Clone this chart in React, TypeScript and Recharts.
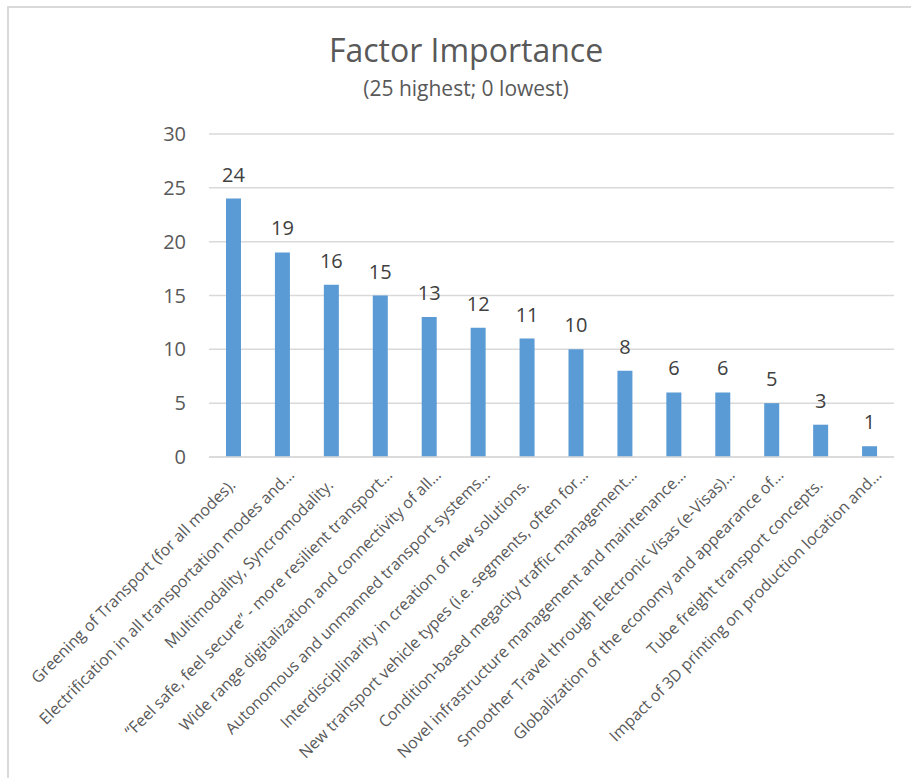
import React from "react";
import { BarChart, Bar, XAxis, YAxis, CartesianGrid, LabelList } from "recharts";

const categories: string[] = [
  "Greening of Transport (for all modes).",
  "Electrification in all transportation modes and…",
  "Multimodality, Syncromodality.",
  "“Feel safe, feel secure” - more resilient transport…",
  "Wide range digitalization and connectivity of all…",
  "Autonomous and unmanned transport systems…",
  "Interdisciplinarity in creation of new solutions.",
  "New transport vehicle types (i.e. segments, often for…",
  "Condition-based megacity traffic management…",
  "Novel infrastructure management and maintenance…",
  "Smoother Travel through Electronic Visas (e-Visas)…",
  "Globalization of the economy and appearance of…",
  "Tube freight transport concepts.",
  "Impact of 3D printing on production location and…",
];

const importance: number[] = [24, 19, 16, 15, 13, 12, 11, 10, 8, 6, 6, 5, 3, 1];

const yTicks: number[] = [0, 5, 10, 15, 20, 25, 30];

const titleText = "Factor Importance";
const subtitleText = "(25 highest; 0 lowest)";

const data = categories.map((name, i) => ({ name, value: importance[i] }));

const FONT = "'Open Sans', 'Noto Sans', sans-serif";

const CategoryTick = (props: any) => {
  const { x, y, payload } = props;
  const label: string = String(payload.value);
  const truncated = label.endsWith("…");
  const ax = x + (truncated ? 13 : 3);
  const ay = y + (truncated ? 19 : 29);
  return (
    <text
      x={ax}
      y={ay}
      transform={`rotate(-45, ${ax}, ${ay})`}
      textAnchor="end"
      fill="#595959"
      fontSize={16}
      fontFamily={FONT}
    >
      {label}
    </text>
  );
};

export default function App() {
  return (
    <div style={{ position: "absolute", left: 0, top: 0, width: 911, height: 778, background: "#fff", overflow: "hidden" }}>
      <div
        style={{
          position: "absolute",
          left: 7,
          top: 6,
          width: 1000,
          height: 1000,
          borderLeft: "2px solid #d9d9d9",
          borderTop: "2px solid #d9d9d9",
        }}
      />
      <div
        style={{
          position: "absolute",
          left: 0,
          width: 932,
          top: 28,
          textAlign: "center",
          fontFamily: FONT,
          fontSize: 32,
          color: "#595959",
          lineHeight: "44px",
        }}
      >
        {titleText}
      </div>
      <div
        style={{
          position: "absolute",
          left: 0,
          width: 932,
          top: 74,
          textAlign: "center",
          fontFamily: FONT,
          fontSize: 21,
          color: "#595959",
          lineHeight: "28px",
        }}
      >
        {subtitleText}
      </div>
      <div style={{ position: "absolute", left: 0, top: 0 }}>
        <BarChart
          width={911}
          height={778}
          data={data}
          margin={{ top: 134, right: 17, bottom: 291, left: 149 }}
        >
          <CartesianGrid vertical={false} stroke="#d9d9d9" strokeWidth={1.5} />
          <XAxis
            dataKey="name"
            interval={0}
            tickLine={false}
            tickSize={0}
            tickMargin={0}
            axisLine={{ stroke: "#d9d9d9", strokeWidth: 1.5 }}
            tick={CategoryTick}
            height={30}
          />
          <YAxis
            width={60}
            domain={[0, 30]}
            ticks={yTicks}
            axisLine={false}
            tickLine={false}
            tickSize={0}
            tickMargin={23}
            tick={{ fill: "#595959", fontSize: 20, fontFamily: FONT }}
          />
          <Bar dataKey="value" fill="#5b9bd5" barSize={15} isAnimationActive={false}>
            <LabelList
              dataKey="value"
              position="top"
              offset={17}
              fill="#404040"
              fontSize={20}
              fontFamily={FONT}
            />
          </Bar>
        </BarChart>
      </div>
    </div>
  );
}
